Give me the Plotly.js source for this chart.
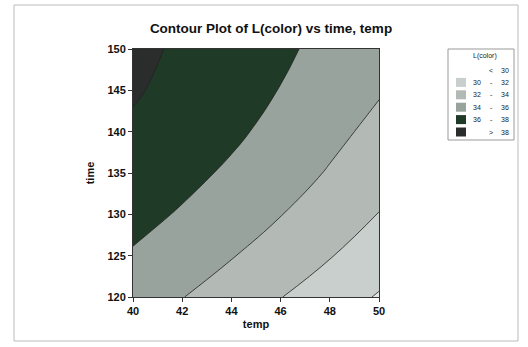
<!DOCTYPE html>
<html>
<head>
<meta charset="utf-8">
<script src="https://cdn.plot.ly/plotly-3.0.1.min.js"></script>
<style>html,body{margin:0;padding:0;background:#fff;}#chart{width:528px;height:347px;}</style>
</head>
<body>
<div id="chart"></div>
<script>
// Data
var temp = [40, 42, 44, 46, 48, 50];
var time = [120, 125, 130, 135, 140, 145, 150];
var Lcolor = [
  [35.0, 34.05, 33.05, 32.05, 30.9, 29.85],
  [35.85, 35.0, 34.1, 33.1, 32.1, 30.95],
  [36.5, 35.85, 35.0, 34.05, 33.05, 31.95],
  [37.1, 36.45, 35.75, 34.85, 33.85, 32.8],
  [37.7, 37.0, 36.3, 35.5, 34.5, 33.5],
  [38.2, 37.4, 36.7, 35.95, 35.05, 34.15],
  [38.5, 37.7, 37.0, 36.3, 35.5, 34.75]
];
var xTicks = [40, 42, 44, 46, 48, 50];
var yTicks = [120, 125, 130, 135, 140, 145, 150];
var bandLeft = ['<', '30', '32', '34', '36', '>'];
var bandRight = ['30', '32', '34', '36', '38', '38'];
var bandColors = ['#e4e7e5', '#c9cfcc', '#b3bab6', '#98a39d', '#1f3a26', '#2a2d2b'];

// geometry helpers (plot area in px)
var L = 133, R = 379, T = 49, B = 297;
function px(x) { return (x - L) / (R - L); }
function py(y) { return (B - y) / (B - T); }

var cs = bandColors.map(function (c, i) { return [i / (bandColors.length - 1), c]; });

var traces = [{
  type: 'contour',
  x: temp, y: time, z: Lcolor,
  colorscale: cs,
  showscale: false,
  contours: { start: 30, end: 38, size: 2, coloring: 'fill', showlabels: false },
  line: { color: '#222', width: 0.8, smoothing: 1.3 },
  hoverinfo: 'x+y+z'
}];

var shapes = [];
var ann = [];
// outer scan frame
shapes.push({ type: 'rect', xref: 'paper', yref: 'paper', x0: px(14), x1: px(518), y0: py(5), y1: py(341),
  line: { color: '#bbb', width: 1 }, fillcolor: 'rgba(0,0,0,0)', layer: 'below' });
// legend box
shapes.push({ type: 'rect', xref: 'paper', yref: 'paper', x0: px(448), x1: px(514), y0: py(49), y1: py(140),
  line: { color: '#999', width: 1 }, fillcolor: '#fff' });
ann.push({ xref: 'paper', yref: 'paper', x: px(485), y: py(56), text: 'L(color)', showarrow: false,
  font: { family: 'Liberation Sans, Arial, sans-serif', size: 7, color: '#222' }, xanchor: 'center', yanchor: 'middle' });
for (var i = 0; i < bandColors.length; i++) {
  var yc = 70 + i * 12.4;
  if (i > 0) {
    shapes.push({ type: 'rect', xref: 'paper', yref: 'paper', x0: px(456), x1: px(466), y0: py(yc - 4.5), y1: py(yc + 4.5),
      line: { width: 0 }, fillcolor: bandColors[i] });
  }
  var isEnd = (i === 0 || i === bandColors.length - 1);
  var f = { family: 'Liberation Sans, Arial, sans-serif', size: 7, color: '#222' };
  if (isEnd) {
    ann.push({ xref: 'paper', yref: 'paper', x: px(491), y: py(yc), text: bandLeft[i], showarrow: false, font: f, xanchor: 'center', yanchor: 'middle' });
  } else {
    ann.push({ xref: 'paper', yref: 'paper', x: px(477), y: py(yc), text: bandLeft[i], showarrow: false, font: f, xanchor: 'center', yanchor: 'middle' });
    ann.push({ xref: 'paper', yref: 'paper', x: px(491), y: py(yc), text: '-', showarrow: false, font: f, xanchor: 'center', yanchor: 'middle' });
  }
  ann.push({ xref: 'paper', yref: 'paper', x: px(505), y: py(yc), text: bandRight[i], showarrow: false, font: f, xanchor: 'center', yanchor: 'middle' });
}

var tickFont = { family: 'Liberation Sans, Arial, sans-serif', size: 11, color: '#111', weight: 'bold' };
var layout = {
  width: 528, height: 347,
  margin: { l: L, r: 528 - R, t: T, b: 347 - B, pad: 0 },
  paper_bgcolor: '#fff', plot_bgcolor: '#fff',
  showlegend: false,
  title: { text: '<b>Contour Plot of L(color) vs time, temp</b>', x: px(271), xref: 'paper', xanchor: 'center',
    y: 1 - 28 / 347, yanchor: 'middle',
    font: { family: 'Liberation Sans, Arial, sans-serif', size: 13.5, color: '#111' } },
  xaxis: {
    range: [40, 50], tickvals: xTicks, ticktext: xTicks.map(String),
    ticks: 'outside', ticklen: 4, tickcolor: '#333', tickfont: tickFont,
    showline: true, linecolor: '#333', linewidth: 1, mirror: true, showgrid: false, zeroline: false,
    title: { text: '<b>temp</b>', font: { family: 'Liberation Sans, Arial, sans-serif', size: 11, color: '#111' }, standoff: 4 }
  },
  yaxis: {
    range: [120, 150], tickvals: yTicks, ticktext: yTicks.map(String),
    ticks: 'outside', ticklen: 4, tickcolor: '#333', tickfont: tickFont,
    showline: true, linecolor: '#333', linewidth: 1, mirror: true, showgrid: false, zeroline: false,
    title: { text: '<b>time</b>', font: { family: 'Liberation Sans, Arial, sans-serif', size: 11, color: '#111' }, standoff: 10 }
  },
  shapes: shapes,
  annotations: ann
};

Plotly.newPlot('chart', traces, layout, { displayModeBar: false, staticPlot: true });
</script>
</body>
</html>
